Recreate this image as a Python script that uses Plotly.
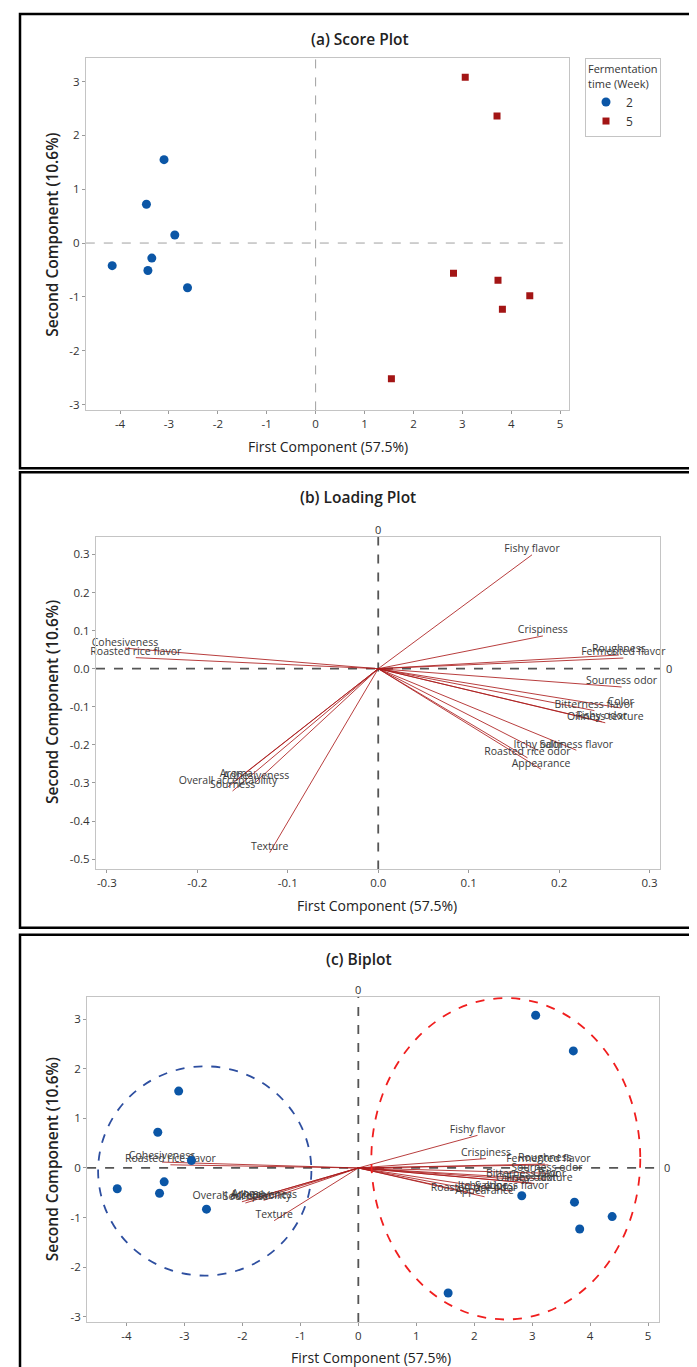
import plotly.graph_objects as go

W, H = 697, 1367

# ---------------- data ----------------
week2_pc1 = [-3.10, -3.46, -2.88, -3.35, -4.16, -3.43, -2.62]
week2_pc2 = [1.55, 0.72, 0.15, -0.28, -0.42, -0.51, -0.83]
week5_pc1 = [3.06, 3.71, 2.82, 3.73, 4.38, 3.82, 1.55]
week5_pc2 = [3.08, 2.36, -0.56, -0.69, -0.98, -1.23, -2.52]

variables = ["Fishy flavor", "Crispiness", "Roughness", "Fermented flavor", "Sourness odor",
             "Bitterness flavor", "Color", "Fishy odor", "Oiliness texture", "Itchy odor",
             "Saltiness flavor", "Roasted rice odor", "Appearance", "Cohesiveness",
             "Roasted rice flavor", "Texture", "Aroma", "Adhesiveness",
             "Overall acceptability", "Sourness"]
load_pc1 = [0.170, 0.182, 0.266, 0.271, 0.269, 0.239, 0.268, 0.247, 0.251, 0.177,
            0.219, 0.165, 0.180, -0.280, -0.268, -0.120, -0.157, -0.135, -0.166, -0.161]
load_pc2 = [0.299, 0.086, 0.036, 0.028, -0.048, -0.110, -0.103, -0.139, -0.142, -0.215,
            -0.214, -0.234, -0.264, 0.054, 0.029, -0.483, -0.292, -0.297, -0.310, -0.321]

# biplot loading scale factors (PC1, PC2)
biplot_scale = [12.1, 2.2]

# group ellipses in biplot: center x, center y, half-width, half-height
ellipse_cx = [-2.65, 2.545]
ellipse_cy = [-0.06, 0.185]
ellipse_rx = [1.84, 2.32]
ellipse_ry = [2.11, 3.24]
ellipse_colors = ["#2E4FA0", "#F01E1E"]

score_ticks = [-4, -3, -2, -1, 0, 1, 2, 3, 4, 5]
score_ticklabels = ["-4", "-3", "-2", "-1", "0", "1", "2", "3", "4", "5"]
score_yticks = [-3, -2, -1, 0, 1, 2, 3]
score_yticklabels = ["-3", "-2", "-1", "0", "1", "2", "3"]
load_xticks = [-0.3, -0.2, -0.1, 0.0, 0.1, 0.2, 0.3]
load_xticklabels = ["-0.3", "-0.2", "-0.1", "0.0", "0.1", "0.2", "0.3"]
load_yticks = [-0.5, -0.4, -0.3, -0.2, -0.1, 0.0, 0.1, 0.2, 0.3]
load_yticklabels = ["-0.5", "-0.4", "-0.3", "-0.2", "-0.1", "0.0", "0.1", "0.2", "0.3"]

# ---------------- helpers ----------------
def px(x):
    return x / W

def py(y):
    return 1 - y / H

FONT = "Open Sans"
BLUE = "#0B56A6"
RED = "#A31515"
LINE = "rgba(172,28,28,0.85)"
TXT = "#3a3a3a"

fig = go.Figure()

# ---- (a) Score plot ----
fig.add_trace(go.Scatter(x=week2_pc1, y=week2_pc2, mode="markers", name="2",
                         marker=dict(symbol="circle", size=9, color=BLUE),
                         xaxis="x", yaxis="y"))
fig.add_trace(go.Scatter(x=week5_pc1, y=week5_pc2, mode="markers", name="5",
                         marker=dict(symbol="square", size=7, color=RED),
                         xaxis="x", yaxis="y"))

# ---- (b) Loading plot ----
lx, ly = [], []
for a, b in zip(load_pc1, load_pc2):
    lx += [0, a, None]
    ly += [0, b, None]
fig.add_trace(go.Scatter(x=lx, y=ly, mode="lines", line=dict(color=LINE, width=1),
                         showlegend=False, hoverinfo="skip", xaxis="x2", yaxis="y2"))
fig.add_trace(go.Scatter(x=load_pc1, y=load_pc2, mode="text", text=variables,
                         textposition="top center", cliponaxis=False,
                         textfont=dict(family=FONT, size=10.5, color=TXT),
                         showlegend=False, xaxis="x2", yaxis="y2"))

# ---- (c) Biplot ----
bx_end = [v * biplot_scale[0] for v in load_pc1]
by_end = [v * biplot_scale[1] for v in load_pc2]
bx, by = [], []
for a, b in zip(bx_end, by_end):
    bx += [0, a, None]
    by += [0, b, None]
fig.add_trace(go.Scatter(x=bx, y=by, mode="lines", line=dict(color=LINE, width=1),
                         showlegend=False, hoverinfo="skip", xaxis="x3", yaxis="y3"))
fig.add_trace(go.Scatter(x=bx_end, y=by_end, mode="text", text=variables,
                         textposition="top center", cliponaxis=False,
                         textfont=dict(family=FONT, size=10.5, color=TXT),
                         showlegend=False, xaxis="x3", yaxis="y3"))
fig.add_trace(go.Scatter(x=week2_pc1 + week5_pc1, y=week2_pc2 + week5_pc2, mode="markers",
                         marker=dict(symbol="circle", size=9, color=BLUE),
                         showlegend=False, xaxis="x3", yaxis="y3"))

# ---------------- axes ----------------
def axis_style(**kw):
    d = dict(showline=True, linecolor="#c4c4c4", linewidth=1, mirror=True,
             ticks="outside", ticklen=3, tickcolor="#9a9a9a", showgrid=False,
             zeroline=False, tickfont=dict(family=FONT, size=11.5, color="#333"),
             tickmode="array")
    d.update(kw)
    return d

fig.update_layout(
    xaxis=axis_style(domain=[px(77.8), px(560.9)], range=[-4.70, 5.18],
                     tickvals=score_ticks, ticktext=score_ticklabels, anchor="y"),
    yaxis=axis_style(domain=[py(403), py(50)], range=[-3.11, 3.44],
                     tickvals=score_yticks, ticktext=score_yticklabels, anchor="x"),
    xaxis2=axis_style(domain=[px(88), px(652)], range=[-0.312, 0.3115],
                      tickvals=load_xticks, ticktext=load_xticklabels, anchor="y2"),
    yaxis2=axis_style(domain=[py(862.7), py(529.3)], range=[-0.527, 0.347],
                      tickvals=load_yticks, ticktext=load_yticklabels, anchor="x2"),
    xaxis3=axis_style(domain=[px(79.1), px(651.1)], range=[-4.68, 5.19],
                      tickvals=score_ticks, ticktext=score_ticklabels, anchor="y3"),
    yaxis3=axis_style(domain=[py(1316), py(990)], range=[-3.107, 3.456],
                      tickvals=score_yticks, ticktext=score_yticklabels, anchor="x3"),
)

shapes = []
# panel borders
for (x0, y0, x1, y1) in [(12, 6, 693, 461), (12, 465, 693, 921), (12, 928, 693, 1372)]:
    shapes.append(dict(type="rect", xref="paper", yref="paper",
                       x0=px(x0), x1=px(x1), y0=py(y1), y1=py(y0),
                       line=dict(color="black", width=2.5), fillcolor="rgba(0,0,0,0)"))
# reference lines
shapes.append(dict(type="line", xref="x", yref="y domain", x0=0, x1=0, y0=0, y1=1,
                   line=dict(color="#a0a0a0", width=1, dash="dash"), layer="below"))
shapes.append(dict(type="line", xref="x domain", yref="y", x0=0, x1=1, y0=0, y1=0,
                   line=dict(color="#a0a0a0", width=1, dash="dash"), layer="below"))
for xa, ya in [("x2", "y2"), ("x3", "y3")]:
    shapes.append(dict(type="line", xref=xa, yref=ya + " domain", x0=0, x1=0, y0=0, y1=1,
                       line=dict(color="#555", width=1.8, dash="dash"), layer="below"))
    shapes.append(dict(type="line", xref=xa + " domain", yref=ya, x0=0, x1=1, y0=0, y1=0,
                       line=dict(color="#555", width=1.8, dash="dash"), layer="below"))
# ellipses
for cx, cy, rx, ry, col in zip(ellipse_cx, ellipse_cy, ellipse_rx, ellipse_ry, ellipse_colors):
    shapes.append(dict(type="circle", xref="x3", yref="y3",
                       x0=cx - rx, x1=cx + rx, y0=cy - ry, y1=cy + ry,
                       line=dict(color=col, width=1.8, dash="dash")))

annotations = []
def ann(text, x, y, size, color="#222", angle=0, weight="normal"):
    annotations.append(dict(text=text, xref="paper", yref="paper", x=px(x), y=py(y),
                            xanchor="center", yanchor="middle", showarrow=False,
                            textangle=angle,
                            font=dict(family=FONT, size=size, color=color, weight=weight)))

ann("(a) Score Plot", 352, 31, 15.5, weight=600)
ann("(b) Loading Plot", 350, 490, 15.5, weight=600)
ann("(c) Biplot", 351, 952, 15.5, weight=600)
ann("First Component (57.5%)", 320, 439, 14)
ann("First Component (57.5%)", 369, 899, 14)
ann("First Component (57.5%)", 363, 1351, 14)
ann("Second Component (10.6%)", 44, 227, 15.5, angle=-90, weight=600)
ann("Second Component (10.6%)", 44, 695, 15.5, angle=-90, weight=600)
ann("Second Component (10.6%)", 44, 1153, 15.5, angle=-90, weight=600)
ann("0", 370.2, 522.5, 11, color="#333")
ann("0", 661, 661.5, 11, color="#333")
ann("0", 350.2, 983, 11, color="#333")
ann("0", 659, 1161.5, 11, color="#333")

fig.update_layout(
    width=W, height=H, margin=dict(l=0, r=0, t=0, b=0),
    paper_bgcolor="white", plot_bgcolor="white",
    shapes=shapes, annotations=annotations,
    showlegend=True,
    legend=dict(x=px(577), y=py(50), xanchor="left", yanchor="top",
                bordercolor="#c4c4c4", borderwidth=1, bgcolor="white",
                title=dict(text="Fermentation<br>time (Week)",
                           font=dict(family=FONT, size=11, color="#333")),
                font=dict(family=FONT, size=12, color="#333"),
                itemwidth=30, tracegroupgap=0,
                entrywidth=70, entrywidthmode="pixels"),
    font=dict(family=FONT),
)

fig.write_html("out.html")
